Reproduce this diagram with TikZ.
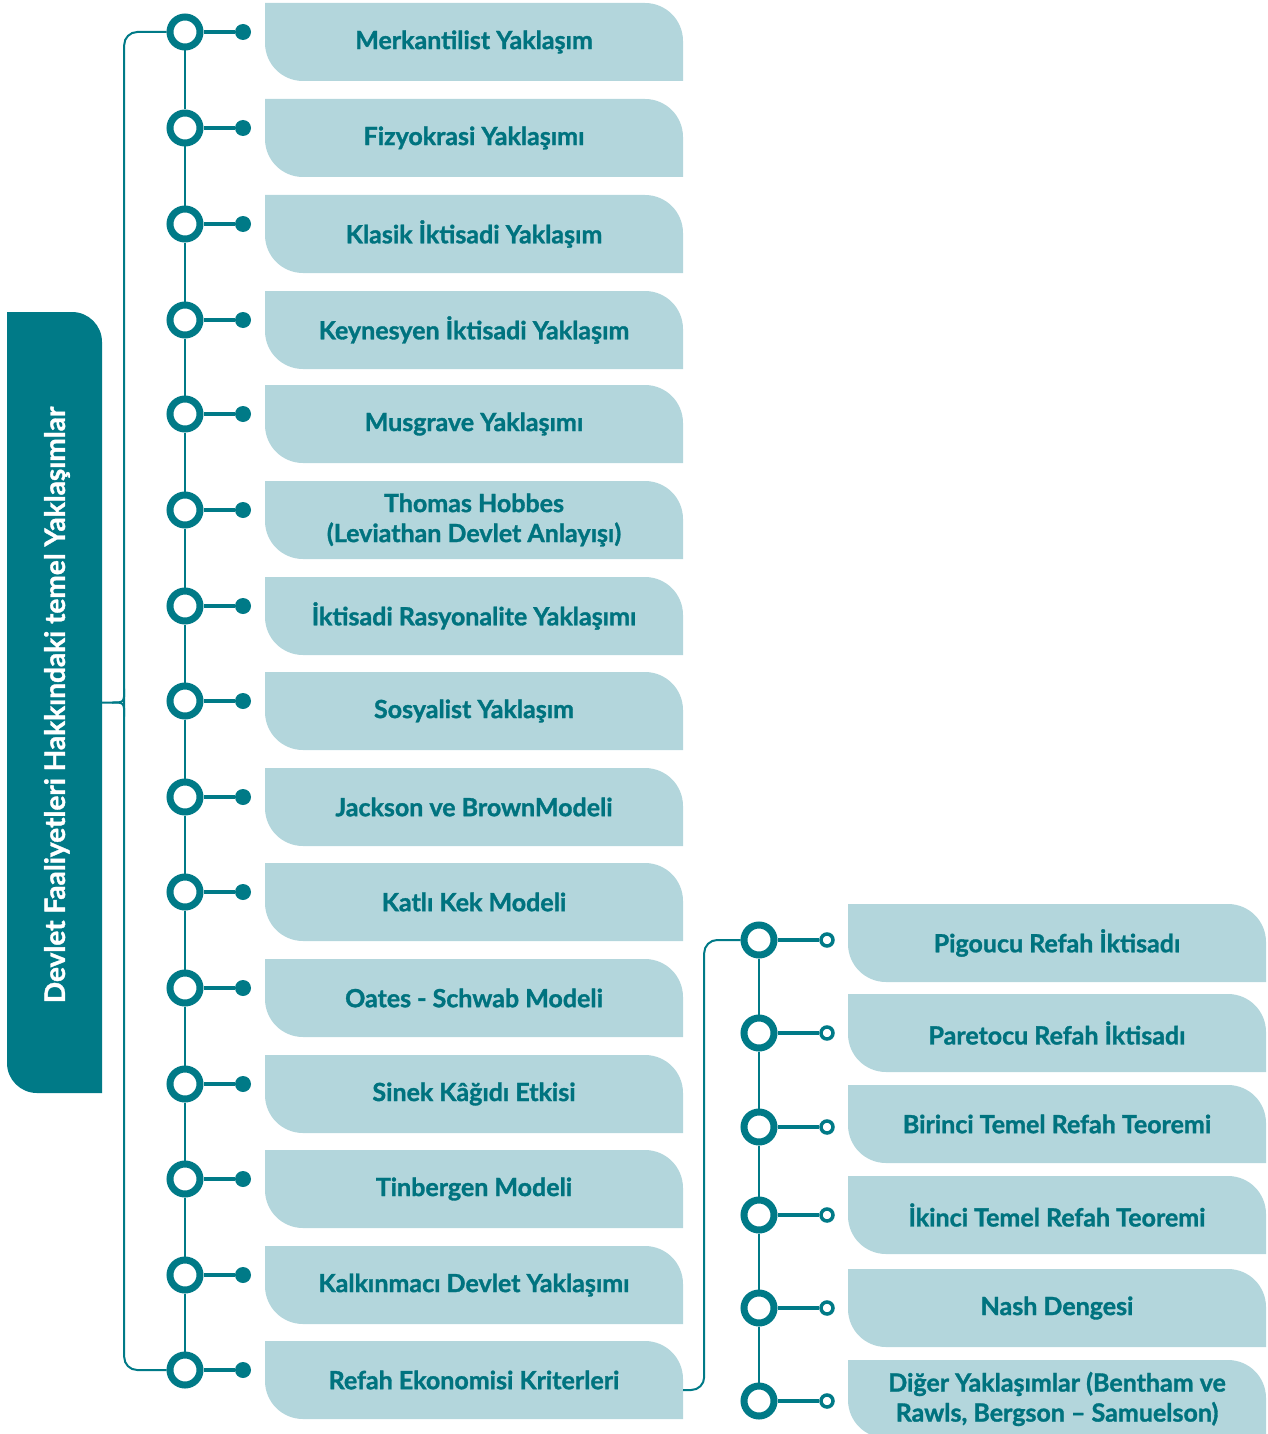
\documentclass[tikz,border=0pt]{standalone}
\usepackage{fontspec}
\setmainfont{Lato}[BoldFeatures={FakeBold=1.3}]
\usetikzlibrary{positioning}
\definecolor{teal1}{HTML}{007A87}
\definecolor{tabfill}{HTML}{B3D6DC}
\definecolor{tabtext}{HTML}{00737F}
\tikzset{
  tabshape/.style 2 args={path picture={
    \fill[#1] (path picture bounding box.north west)
      -- ([xshift=-#2]path picture bounding box.north east)
      arc[start angle=90, end angle=0, radius=#2]
      -- (path picture bounding box.south east)
      -- ([xshift=#2]path picture bounding box.south west)
      arc[start angle=270, end angle=180, radius=#2] -- cycle;}},
  tab/.style={tabshape={tabfill}{38pt}, minimum width=418pt, minimum height=78pt,
    inner sep=0pt, align=center, text=tabtext,
    font=\fontsize{25}{30}\selectfont\bfseries},
  roottab/.style={tabshape={teal1}{30pt}, minimum width=95pt, minimum height=781pt, inner sep=0pt},
  roottext/.style={rotate=90, text=white, font=\fontsize{28}{30}\selectfont\bfseries},
  ring/.style={circle, draw=teal1, line width=7pt, fill=white, minimum size=30pt, inner sep=0pt},
  dot/.style={circle, fill=teal1, minimum size=16pt, inner sep=0pt},
  oring/.style={circle, draw=teal1, line width=3.5pt, fill=white, minimum size=12pt, inner sep=0pt},
  stem/.style={teal1, line width=4pt},
  spine/.style={teal1, line width=2pt},
  bracket/.style={teal1, line width=2pt}
}
\begin{document}
\begin{tikzpicture}[x=1pt, y=-1pt]
  \useasboundingbox (0,0) rectangle (1268,1434);
  % root
  \node[roottab] (root) at (54.5,702.5) {};
  \node[roottext] (rtitle) at (57,705) {Devlet Faaliyetleri Hakkındaki temel Yaklaşımlar};

  % left column
  \node[ring] (r1) at (185,32) {};   \node[dot] (d1) at (243,32) {};
  \node[tab] (b1) at (474,42) {Merkantilist Yaklaşım};
  \node[ring] (r2) at (185,128) {};  \node[dot] (d2) at (243,128) {};
  \node[tab] (b2) at (474,138) {Fizyokrasi Yaklaşımı};
  \node[ring] (r3) at (185,224) {};  \node[dot] (d3) at (243,224) {};
  \node[tab] (b3) at (474,234) {Klasik İktisadi Yaklaşım};
  \node[ring] (r4) at (185,320) {};  \node[dot] (d4) at (243,320) {};
  \node[tab] (b4) at (474,330) {Keynesyen İktisadi Yaklaşım};
  \node[ring] (r5) at (185,414) {};  \node[dot] (d5) at (243,414) {};
  \node[tab] (b5) at (474,424) {Musgrave Yaklaşımı};
  \node[ring] (r6) at (185,510) {};  \node[dot] (d6) at (243,510) {};
  \node[tab] (b6) at (474,520) {Thomas Hobbes\\(Leviathan Devlet Anlayışı)};
  \node[ring] (r7) at (185,606) {};  \node[dot] (d7) at (243,606) {};
  \node[tab] (b7) at (474,616) {İktisadi Rasyonalite Yaklaşımı};
  \node[ring] (r8) at (185,701) {};  \node[dot] (d8) at (243,701) {};
  \node[tab] (b8) at (474,711) {Sosyalist Yaklaşım};
  \node[ring] (r9) at (185,797) {};  \node[dot] (d9) at (243,797) {};
  \node[tab] (b9) at (474,807) {Jackson ve BrownModeli};
  \node[ring] (r10) at (185,892) {}; \node[dot] (d10) at (243,892) {};
  \node[tab] (b10) at (474,902) {Katlı Kek Modeli};
  \node[ring] (r11) at (185,988) {}; \node[dot] (d11) at (243,988) {};
  \node[tab] (b11) at (474,998) {Oates - Schwab Modeli};
  \node[ring] (r12) at (185,1084) {}; \node[dot] (d12) at (243,1084) {};
  \node[tab] (b12) at (474,1094) {Sinek Kâğıdı Etkisi};
  \node[ring] (r13) at (185,1179) {}; \node[dot] (d13) at (243,1179) {};
  \node[tab] (b13) at (474,1189) {Tinbergen Modeli};
  \node[ring] (r14) at (185,1275) {}; \node[dot] (d14) at (243,1275) {};
  \node[tab] (b14) at (474,1285) {Kalkınmacı Devlet Yaklaşımı};
  \node[ring] (r15) at (185,1370) {}; \node[dot] (d15) at (243,1370) {};
  \node[tab] (b15) at (474,1380) {Refah Ekonomisi Kriterleri};

  % right column
  \node[ring] (s1) at (759,940) {};  \node[oring] (o1) at (827,940) {};
  \node[tab] (t1) at (1057,943) {Pigoucu Refah İktisadı};
  \node[ring] (s2) at (759,1033) {}; \node[oring] (o2) at (827,1033) {};
  \node[tab] (t2) at (1057,1033) {Paretocu Refah İktisadı};
  \node[ring] (s3) at (759,1127) {}; \node[oring] (o3) at (827,1127) {};
  \node[tab] (t3) at (1057,1124) {Birinci Temel Refah Teoremi};
  \node[ring] (s4) at (759,1215) {}; \node[oring] (o4) at (827,1215) {};
  \node[tab] (t4) at (1057,1215) {İkinci Temel Refah Teoremi};
  \node[ring] (s5) at (759,1308) {}; \node[oring] (o5) at (827,1308) {};
  \node[tab] (t5) at (1057,1308) {Nash Dengesi};
  \node[ring] (s6) at (759,1401) {}; \node[oring] (o6) at (827,1401) {};
  \node[tab] (t6) at (1057,1399) {Diğer Yaklaşımlar (Bentham ve\\Rawls, Bergson – Samuelson)};

  % connectors
  \foreach \i in {1,...,15} \draw[stem] (r\i) -- (d\i);
  \foreach \i [count=\j from 2] in {1,...,14} \draw[spine] (r\i) -- (r\j);
  \foreach \i in {1,...,6} \draw[stem] (s\i) -- (o\i);
  \foreach \i [count=\j from 2] in {1,...,5} \draw[spine] (s\i) -- (s\j);

  \draw[bracket, rounded corners=13pt] (r1.west) -| ([xshift=22pt]root.east) |- (r15.west);
  \draw[bracket] (root.east) -- ++(10,0) .. controls ++(12,0) .. ++(12,-14);
  \draw[bracket] ([xshift=10pt]root.east) .. controls ++(12,0) .. ++(12,14);
  \draw[bracket, rounded corners=13pt] ([yshift=-10pt]b15.east) -- ++(21,0) |- (s1.west);
\end{tikzpicture}
\end{document}
